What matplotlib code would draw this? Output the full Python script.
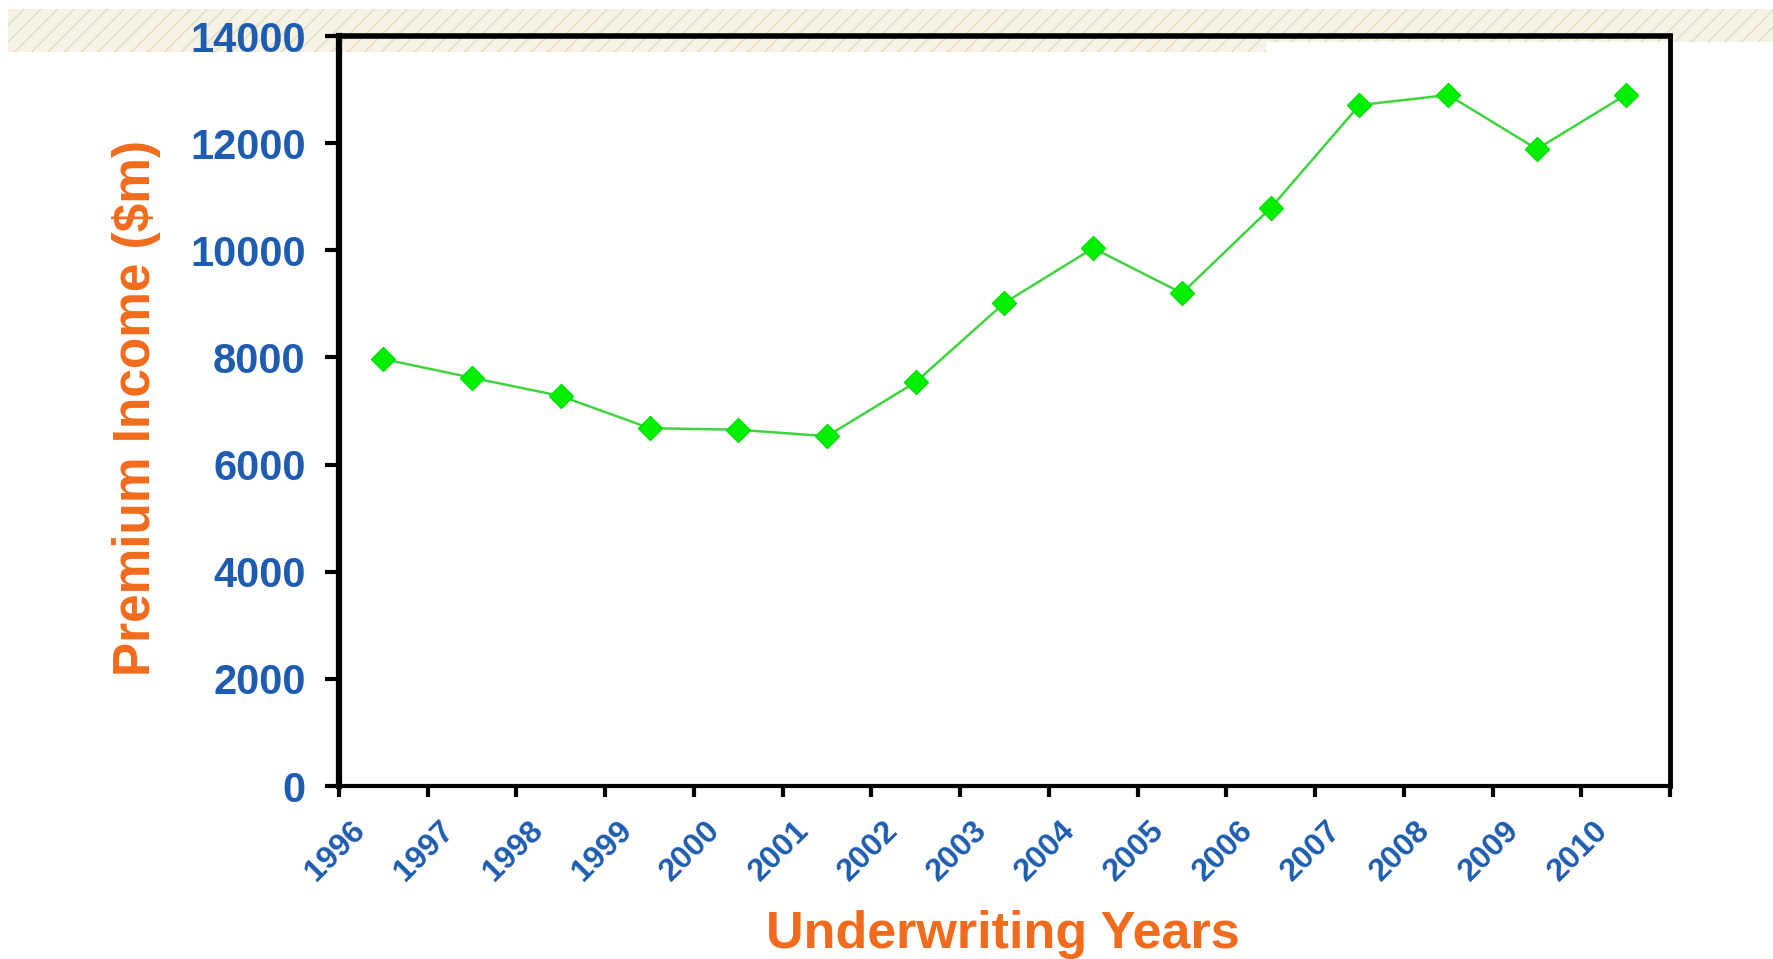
import matplotlib
matplotlib.use("Agg")
import matplotlib.pyplot as plt
from matplotlib.patches import Rectangle
from matplotlib.transforms import ScaledTranslation
import numpy as np

# premium income per underwriting year ($m)
years = ["1996", "1997", "1998", "1999", "2000", "2001", "2002", "2003",
         "2004", "2005", "2006", "2007", "2008", "2009", "2010"]
premium = [7970, 7620, 7280, 6680, 6650, 6530, 7540, 9020,
           10040, 9200, 10790, 12710, 12900, 11890, 12900]
y_ticks = [0, 2000, 4000, 6000, 8000, 10000, 12000, 14000]

BLUE = "#1d5cb0"
ORANGE = "#f26b1d"
FONT = "Liberation Sans"

W, H = 1773, 959
fig = plt.figure(figsize=(W / 100, H / 100), dpi=100)
fig.patch.set_facecolor("white")

# hatched strip across the top, kept behind the axes
for x0, x1, y0, y1 in [(8, 1266, 9, 52), (1266, W, 9, 42)]:
    band = Rectangle((x0 / W, 1 - y1 / H), (x1 - x0) / W, (y1 - y0) / H,
                     transform=fig.transFigure, facecolor="#f6f3e6",
                     edgecolor="#e2dbbf", hatch="//", linewidth=0, zorder=-5)
    fig.patches.append(band)

ax = fig.add_axes([339 / W, 1 - 786 / H, (1670 - 339) / W, (786 - 36) / H])
ax.set_facecolor("none")
ax.set_zorder(2)

x = np.arange(len(years))
ax.plot(x, premium, color="#3fd43f", linewidth=1.8, marker="D", markersize=12.5,
        markerfacecolor="#00f000", markeredgecolor="#00e000", clip_on=False, zorder=3)

ax.set_xlim(-0.5, len(years) - 0.5)
ax.set_ylim(0, 14000)

for side, lw in [("left", 4.5), ("top", 4), ("right", 3.5), ("bottom", 3)]:
    ax.spines[side].set_linewidth(lw)
    ax.spines[side].set_color("black")

ax.set_yticks(y_ticks)
ax.set_yticklabels([str(v) for v in y_ticks])
ax.tick_params(axis="y", direction="out", length=10, width=3, pad=14,
               labelsize=30, labelcolor=BLUE)
for lab in ax.get_yticklabels():
    lab.set_fontfamily(FONT)
    lab.set_fontweight("bold")

# category boundaries carry the ticks
ax.set_xticks(np.arange(len(years) + 1) - 0.5)
ax.tick_params(axis="x", direction="out", length=8, width=3, labelbottom=False)

offset = ScaledTranslation(0.22, -0.40, fig.dpi_scale_trans)
for i, yr in enumerate(years):
    ax.text(i - 0.5, 0, yr, transform=ax.get_xaxis_transform() + offset,
            rotation=45, rotation_mode="anchor", ha="right", va="center",
            fontsize=23, fontweight="bold", color=BLUE, fontfamily=FONT)

fig.text(1003 / W, 1 - 948 / H, "Underwriting Years", ha="center", va="baseline",
         fontsize=37.5, fontweight="bold", color=ORANGE, fontfamily=FONT)
fig.text(137 / W, 1 - 408 / H, "Premium Income ($m)", ha="center", va="center",
         rotation=90, fontsize=37, fontweight="bold", color=ORANGE, fontfamily=FONT)

fig.savefig("out.png", dpi=100)
